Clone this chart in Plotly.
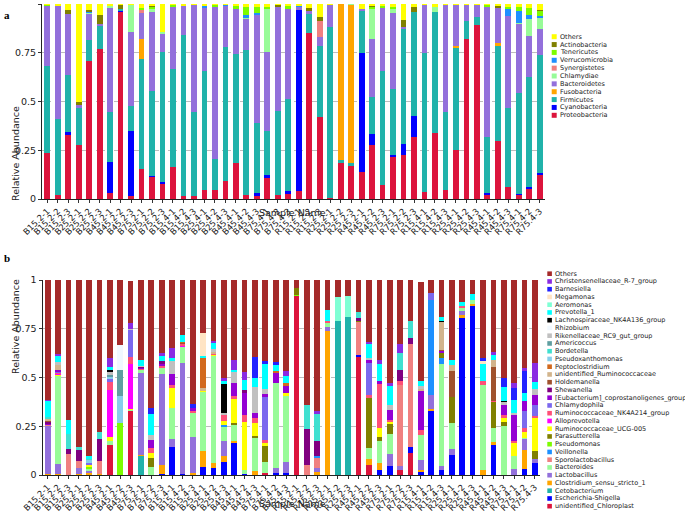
import plotly.graph_objects as go

W, H = 685, 518

samples = [
    "B15.2-1", "B15.2-2", "B15.2-3", "B25.2-1", "B25.2-2", "B25.2-3",
    "B45.2-1", "B45.2-2", "B45.2-3", "B75.2-1", "B75.2-2", "B75.2-3",
    "B15.4-1", "B15.4-2", "B15.4-3", "B25.4-1", "B25.4-2", "B25.4-3",
    "B45.4-1", "B45.4-2", "B45.4-3", "B75.4-1", "B75.4-2", "B75.4-3",
    "R15.2-1", "R15.2-2", "R15.2-3", "R25.2-1", "R25.2-2", "R25.2-3",
    "R45.2-1", "R45.2-2", "R45.2-3", "R75.2-1", "R75.2-2", "R75.2-3",
    "R15.4-1", "R15.4-2", "R15.4-3", "R25.4-1", "R25.4-2", "R25.4-3",
    "R45.4-1", "R45.4-2", "R45.4-3", "R75.4-1", "R75.4-2", "R75.4-3",
]

# ---- panel a: phyla (full lists for the big ones, {sample no: value} for the small ones)
proteobacteria = [.235, .02, .33, .275, .708, .768, .03, .964, .015, .154, .115, .08,
                  .165, .017, .017, .045, .045, .09, .185, .02, .02, .11, .02, .03,
                  .04, .853, .423, .005, .184, .17, .137, .278, .073, .218, .227, .316,
                  .034, .341, .048, .249, .819, .892, .025, .30, .061, .022, .056, .121]
firmicutes = [.445, .39, .29, .195, .108, .122, .256, .004, .128, .563, .436, .671,
              .5, .823, .428, .609, .16, .688, .557, .745, .36, .222, .43, .472,
              0, .097, .362, .879, .016, .015, .219, .191, .586, .336, .587, .534,
              .713, .62, .396, .524, .096, .04, .29, .485, .405, .519, .566, .606]
bacteroidetes = [.31, .58, .315, .01, .135, .01, .534, 0, .377, .135, .404, .094,
                 .318, .15, .55, .329, .781, .212, .231, .162, .554, .409, .533, .461,
                 .015, .012, .045, .111, 0, 0, .009, .295, .319, .389, .014, 0,
                 .248, 0, .551, .21, .08, .063, .663, .181, .473, .354, .21, .133]
others_a = [.005, .01, .028, .50, .03, .055, .01, .005, .005, .02, .005, .145,
            .005, .01, .005, .007, .005, .005, .007, .013, .015, .015, .005, .01,
            .01, .023, .065, .005, 0, 0, .029, .007, .01, .014, .082, .017,
            .005, .014, .005, .005, .005, .005, .005, .01, .015, .015, .022, .03]
cyanobacteria = {3: .015, 7: .158, 8: .005, 9: .335, 11: .005, 12: .005, 21: .01, 22: .015,
                 24: .01, 25: .93, 31: .61, 32: .056, 34: .009, 35: .056, 36: .111, 43: .005,
                 46: .005, 47: .006, 48: .012}
fusobacteria = {10: .103, 29: .8, 30: .81, 40: .012, 44: .017}
chlamydiae = {5: .007, 7: .012, 9: .14, 11: .015, 12: .005, 20: .005, 22: .222, 30: .005,
              32: .158, 34: .026, 38: .025, 46: .005, 47: .085, 48: .06}
synergistetes = {10: .015, 27: .085}
verrucomicrobia = {5: .005, 16: .01, 18: .005, 20: .01, 21: .011, 25: .005, 45: .034,
                   46: .061, 47: .021, 48: .008}
tenericutes = {1: .005, 10: .01, 11: .01, 13: .012, 17: .009, 19: .02, 20: .045, 21: .03,
               22: .007, 24: .017, 32: .01, 33: .012, 34: .008, 43: .012, 45: .012,
               46: .019, 47: .034, 48: .026}
actinobacteria = {3: .02, 4: .02, 5: .005, 6: .045, 8: .022, 11: .005, 23: .012, 26: .015,
                  27: .02, 32: .005, 35: .034, 36: .022, 44: .007, 48: .004}

# ---- panel b: genera, {sample no: value}
chloroplast = {7: .154, 9: .331, 22: .01, 25: .918, 31: .609, 32: .051, 35: .026, 36: .111}
escherichia = {12: .005, 13: .146, 14: .005, 16: .04, 17: .034, 18: .069, 19: .168, 20: .005,
               23: .01, 24: .01, 31: .005, 33: .026, 34: .048, 36: .035, 37: .017, 38: .329,
               39: .026, 40: .103, 41: .803, 42: .871, 44: .154, 47: .029, 48: .06}
cetobacterium = {10: .1, 29: .792, 30: .81}
clostridium = {1: .005, 2: .005, 4: .005, 5: .012, 6: .005, 10: .005, 12: .045, 15: .01,
               16: .084, 17: .026, 18: .031, 19: .005, 21: .02, 27: .014, 28: .741, 32: .031,
               33: .034, 37: .009, 38: .009, 41: .02, 42: .005, 43: .026, 44: .014, 47: .1}
lactobacillus = {1: .25, 2: .05, 4: .033, 5: .01, 10: .416, 12: .468, 13: .039, 14: .57,
                 15: .184, 18: .075, 23: .024, 24: .055, 27: .024, 28: .017, 34: .058,
                 35: .022, 37: .051, 38: .074, 39: .022, 40: .029, 41: .017, 46: .029,
                 47: .056, 48: .022}
bacteroides = {2: .456, 5: .01, 7: .021, 9: .005, 10: .019, 11: .043, 12: .031, 13: .161,
               14: .082, 15: .128, 16: .305, 17: .554, 18: .074, 19: .084, 20: .021,
               21: .169, 22: .059, 23: .438, 24: .338, 28: .022, 32: .055, 33: .112,
               34: .105, 37: .129, 39: .521, 40: .134, 41: .018, 42: .024, 43: .437,
               44: .072, 45: .249, 46: .071, 47: .005}
sporolactobacillus = {1: .005, 3: .11, 4: .034, 6: .069, 26: .05, 27: .052, 31: .172,
                      35: .415, 36: .526}
veillonella = {18: .005, 27: .005, 38: .488, 39: .031}
pseudomonas = {5: .012, 8: .266, 25: .005}
parasutterella = {11: .043, 19: .01, 21: .011, 22: .082, 25: .035, 31: .005, 32: .257,
                  33: .025, 34: .05, 39: .026, 40: .132, 44: .137, 45: .025, 48: .042}
rumino_ucg005 = {2: .005, 5: .008, 7: .022, 9: .005, 11: .025, 13: .1, 16: .005, 17: .005,
                 18: .024, 19: .127, 20: .245, 21: .066, 22: .012, 24: .017, 33: .043,
                 34: .013, 45: .018, 46: .063, 47: .033, 48: .168}
alloprevotella = {2: .005, 7: .24, 9: .23, 14: .005}
rumino_nk4a214 = {2: .005, 7: .04, 9: .033, 10: .005, 11: .026, 12: .01, 13: .014, 14: .01,
                  15: .01, 17: .005, 18: .031, 19: .01, 20: .038, 21: .026, 22: .017,
                  28: .012, 32: .018, 33: .227, 34: .01, 35: .017, 37: .026, 41: .01,
                  43: .017, 44: .005, 45: .017, 46: .012, 47: .017, 48: .012}
chlamydophila = {2: .005, 5: .01, 7: .02, 9: .142, 22: .218, 32: .163, 38: .035, 47: .086,
                 48: .056}
eubacterium = {1: .005, 2: .01, 10: .005, 11: .043, 12: .015, 13: .058, 15: .01, 19: .068,
               20: .116, 21: .025, 22: .017, 23: .055, 24: .04, 32: .017, 33: .013, 34: .05,
               37: .197, 39: .012, 45: .051, 46: .134, 47: .051, 48: .052}
shewanella = {1: .01, 3: .024, 4: .057, 6: .111, 10: .005, 12: .01, 20: .01, 26: .187,
              27: .08, 31: .015, 35: .06, 36: .031}
holdemanella = {1: .005, 14: .005, 39: .005, 40: .137, 44: .17}
unid_rumino = {1: .01, 2: .025, 16: .01, 17: .01, 37: .016, 39: .143, 40: .031, 44: .04}
peptoclostridium = {14: .005, 16: .16, 23: .008, 24: .01}
pseudoxanthomonas = {5: .015, 7: .01, 8: .141}
bordetella = {1: .01, 3: .077, 4: .013, 5: .01, 6: .038, 26: .12, 27: .137, 31: .031,
              35: .086, 36: .089}
americoccus = {7: .005, 8: .133}
rikenellaceae = {2: .015, 7: .02, 9: .005, 10: .005, 11: .026, 13: .065, 17: .01, 18: .01,
                 19: .056, 21: .132, 22: .028, 32: .01, 34: .023, 37: .01, 45: .017,
                 46: .01, 48: .031}
rhizobium = {8: .129}
lachnospiraceae = {7: .005, 18: .149, 39: .005, 45: .005}
prevotella = {1: .08, 2: .031, 3: .07, 5: .01, 7: .015, 10: .032, 11: .106, 12: .03,
              13: .017, 14: .038, 16: .005, 17: .034, 18: .015, 19: .012, 20: .054,
              21: .051, 22: .126, 23: .031, 24: .036, 28: .052, 32: .07, 33: .089,
              34: .098, 37: .025, 39: .019, 40: .026, 41: .02, 42: .03, 43: .089,
              44: .025, 45: .067, 46: .067, 47: .043, 48: .034}
aeromonas = {29: .121, 30: .108}
megamonas = {16: .117, 43: .018}
barnesiella = {11: .031, 15: .022, 21: .104, 22: .018, 23: .014, 43: .013, 45: .048,
               46: .06, 47: .112}
christensenellaceae = {1: .005, 2: .008, 7: .048, 9: .028, 12: .01, 13: .052, 17: .008,
                       18: .017, 19: .052, 20: .039, 24: .029, 27: .018, 32: .011,
                       33: .023, 34: .017, 35: .046, 44: .013, 46: .026, 47: .017, 48: .098}
others_b = [.615, .38, .719, .858, .903, .777, .4, .331, .216, .408, .657, .376,
            .348, .28, .636, .274, .314, .5, .408, .472, .396, .413, .42, .465,
            .042, .643, .67, .156, .087, .082, .163, .317, .408, .528, .328, .208,
            .511, .065, .19, .408, .112, .07, .4, .37, .503, .528, .451, .425]


def full(vals):
    if isinstance(vals, dict):
        return [vals.get(i + 1, 0) for i in range(len(samples))]
    return vals


# (name, values, colour), bottom of the stack first
phyla = [
    ("Proteobacteria", proteobacteria, "#DC143C"),
    ("Cyanobacteria", cyanobacteria, "#0000FF"),
    ("Firmicutes", firmicutes, "#20B2AA"),
    ("Fusobacteria", fusobacteria, "#FFA500"),
    ("Bacteroidetes", bacteroidetes, "#9370DB"),
    ("Chlamydiae", chlamydiae, "#98FB98"),
    ("Synergistetes", synergistetes, "#F08080"),
    ("Verrucomicrobia", verrucomicrobia, "#1E90FF"),
    ("Tenericutes", tenericutes, "#7CFC00"),
    ("Actinobacteria", actinobacteria, "#808000"),
    ("Others", others_a, "#FFFF00"),
]
genera = [
    ("unidentified_Chloroplast", chloroplast, "#DC143C"),
    ("Escherichia-Shigella", escherichia, "#0000FF"),
    ("Cetobacterium", cetobacterium, "#20B2AA"),
    ("Clostridium_sensu_stricto_1", clostridium, "#FFA500"),
    ("Lactobacillus", lactobacillus, "#9370DB"),
    ("Bacteroides", bacteroides, "#98FB98"),
    ("Sporolactobacillus", sporolactobacillus, "#F08080"),
    ("Veillonella", veillonella, "#1E90FF"),
    ("Pseudomonas", pseudomonas, "#7CFC00"),
    ("Parasutterella", parasutterella, "#808000"),
    ("Ruminococcaceae_UCG-005", rumino_ucg005, "#FFFF00"),
    ("Alloprevotella", alloprevotella, "#FF00FF"),
    ("Ruminococcaceae_NK4A214_group", rumino_nk4a214, "#FF5078"),
    ("Chlamydophila", chlamydophila, "#7B68EE"),
    ("[Eubacterium]_coprostanoligenes_group", eubacterium, "#9400D3"),
    ("Shewanella", shewanella, "#800080"),
    ("Holdemanella", holdemanella, "#A0522D"),
    ("unidentified_Ruminococcaceae", unid_rumino, "#D2B48C"),
    ("Peptoclostridium", peptoclostridium, "#D2691E"),
    ("Pseudoxanthomonas", pseudoxanthomonas, "#87CEEB"),
    ("Bordetella", bordetella, "#40E0D0"),
    ("Americoccus", americoccus, "#5F9EA0"),
    ("Rikenellaceae_RC9_gut_group", rikenellaceae, "#C0C0C0"),
    ("Rhizobium", rhizobium, "#F0F8FF"),
    ("Lachnospiraceae_NK4A136_group", lachnospiraceae, "#000000"),
    ("Prevotella_1", prevotella, "#00FFFF"),
    ("Aeromonas", aeromonas, "#7FFFD4"),
    ("Megamonas", megamonas, "#FFE4C4"),
    ("Barnesiella", barnesiella, "#2222FF"),
    ("Christensenellaceae_R-7_group", christensenellaceae, "#8A2BE2"),
    ("Others", others_b, "#A52A2A"),
]


def fx(x):
    return x / W


def fy(y):
    return 1 - y / H


fig = go.Figure()
for name, vals, col in phyla:
    fig.add_trace(go.Bar(x=samples, y=full(vals), name=name, marker_color=col,
                         marker_line_width=0, xaxis="x", yaxis="y", showlegend=False))
for name, vals, col in genera:
    fig.add_trace(go.Bar(x=samples, y=full(vals), name=name, marker_color=col,
                         marker_line_width=0, xaxis="x2", yaxis="y2", showlegend=False))

font = "DejaVu Sans"
xax = dict(type="category", range=[-0.5, 47.5], tickangle=-45, tickmode="array",
           tickvals=samples, ticktext=samples, ticks="outside", ticklen=3,
           tickcolor="#333", showline=True, linecolor="#222", linewidth=1, showgrid=False,
           automargin=False, tickfont=dict(family=font, size=8.5, color="#222"))
yax = dict(range=[0, 1], tickvals=[0, .25, .5, .75, 1], ticktext=["0", "0.25", "0.5", "0.75", "1"],
           ticks="outside", ticklen=3, tickcolor="#333", showline=True, linecolor="#222",
           linewidth=1, showgrid=True, gridcolor="#bdbdbd", griddash="dash", zeroline=False,
           automargin=False, tickfont=dict(family=font, size=9.5, color="#222"))

fig.update_layout(
    width=W, height=H, margin=dict(l=0, r=0, t=0, b=0, autoexpand=False),
    barmode="stack", bargap=0.45,
    paper_bgcolor="white", plot_bgcolor="white",
    xaxis=dict(xax, domain=[fx(42), fx(545)], anchor="y"),
    yaxis=dict(yax, domain=[fy(199), fy(4)], anchor="x"),
    xaxis2=dict(xax, domain=[fx(42.5), fx(540)], anchor="y2"),
    yaxis2=dict(yax, domain=[fy(475), fy(280)], anchor="x2"),
)

txt = dict(family=font, size=9.5, color="#222")
for yc in (104, 376):
    fig.add_annotation(x=fx(8), y=fy(yc), xref="paper", yref="paper", text="Relative Abundance",
                       textangle=-90, showarrow=False, font=txt)
for yc in (212, 511):
    fig.add_annotation(x=fx(292), y=fy(yc), xref="paper", yref="paper", text="Sample Name",
                       showarrow=False, font=txt)
for lab, yc in (("a", 7), ("b", 258)):
    fig.add_annotation(x=fx(2), y=fy(yc), xref="paper", yref="paper", text="<b>%s</b>" % lab,
                       xanchor="left", showarrow=False,
                       font=dict(family="Liberation Serif", size=11, color="black"))


def add_key(groups, x_box, y_first, step, box):
    for i, (name, vals, col) in enumerate(reversed(groups)):
        yc = y_first + i * step
        fig.add_shape(type="rect", xref="paper", yref="paper", x0=fx(x_box), x1=fx(x_box + box),
                      y0=fy(yc + box / 2), y1=fy(yc - box / 2), fillcolor=col, line_width=0)
        fig.add_annotation(x=fx(x_box + box + 1.5), y=fy(yc), xref="paper", yref="paper",
                           text=name, xanchor="left", yanchor="middle", showarrow=False,
                           font=dict(family=font, size=6.5, color="#222"))


add_key(phyla, 551.7, 36.7, 7.86, 5)
add_key(genera, 547.3, 273.7, 7.75, 4.6)

# the page's default 8px body margin would push the 685x518 figure off the window
fig.write_html("out.html", config={"displayModeBar": False},
               post_script="document.body.style.margin = '0px';")
